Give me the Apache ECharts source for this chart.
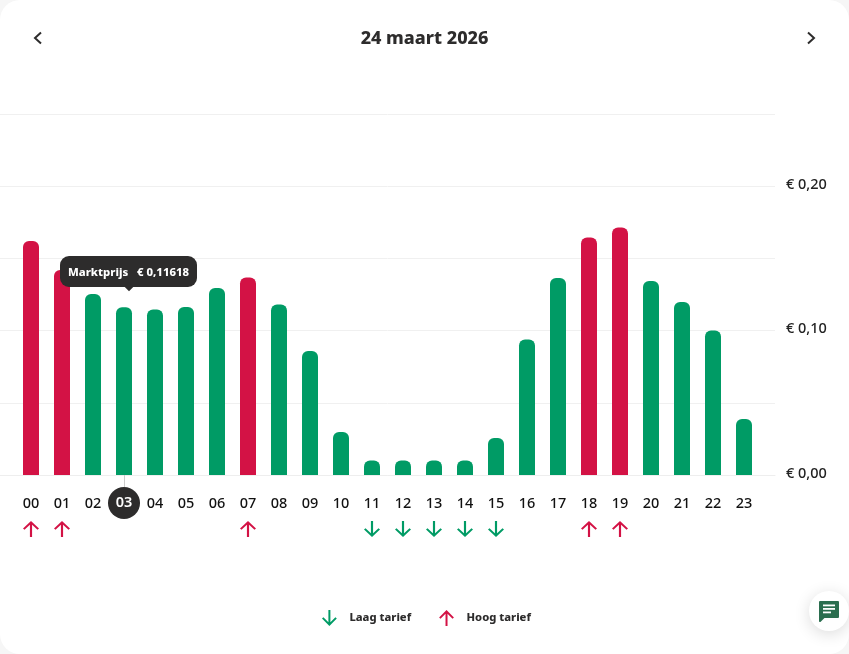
<!DOCTYPE html>
<html>
<head>
<meta charset="utf-8">
<script src="https://cdn.jsdelivr.net/npm/echarts@6/dist/echarts.min.js"></script>
<style>
html,body{margin:0;padding:0;background:#f6f6f6;width:849px;height:654px;overflow:hidden}
#card{position:absolute;left:0;top:0;width:849px;height:654px;background:#fff;border-radius:20px}
#c{width:849px;height:654px}
</style>
</head>
<body>
<div id="card"><div id="c"></div></div>
<script>
const hours = ['00','01','02','03','04','05','06','07','08','09','10','11','12','13','14','15','16','17','18','19','20','21','22','23'];
const prices = [0.162,0.142,0.1253,0.11618,0.1146,0.1163,0.1295,0.1368,0.118,0.0859,0.0298,0.01,0.01,0.01,0.01,0.0256,0.0938,0.1364,0.1645,0.1714,0.1343,0.1198,0.1,0.0388];
const highHours = ['00','01','07','18','19'];
const lowHours = ['11','12','13','14','15'];
const selectedHour = '03';
const labelledTicks = [0,0.10,0.20];
const title = '24 maart 2026';

const GREEN = '#009b65', RED = '#d31245', DARK = '#2d2c2c';
const UP = 'path://M7 16V3.8L2 8.8 0.6 7.4 8 0l7.4 7.4L14 8.8 9 3.8V16z';
const DOWN = 'path://M7 0V12.2L2 7.2 0.6 8.6 8 16l7.4-7.4L14 7.2 9 12.2V0z';

// One empty slot at each end so that the 24 bars sit on a 25-interval axis
const cats = [''].concat(hours, ['']);
const barData = [{value:null}].concat(hours.map((h,i)=>({
  value: prices[i],
  itemStyle:{color: highHours.includes(h) ? RED : GREEN, borderRadius:[6,6,0,0]}
})), [{value:null}]);

const chart = echarts.init(document.getElementById('c'), null, {renderer:'canvas'});
chart.setOption({
  animation:false,
  textStyle:{fontFamily:'"Noto Sans"'},
  title:{text:title,left:'center',top:21,itemGap:0,
    textStyle:{fontFamily:'"Noto Sans"',fontSize:18,fontWeight:800,color:DARK,lineHeight:26}},
  grid:[
    {left:0,top:114,width:775,height:361,containLabel:false,outerBoundsMode:'none'},
    {left:0,top:521,width:775,height:16,outerBoundsMode:'none'}
  ],
  legend:{
    left:317,top:605,itemWidth:16,itemHeight:16,itemGap:28,
    selectedMode:false,
    itemStyle:{opacity:1},
    textStyle:{fontFamily:'"Noto Sans"',fontSize:11.2,fontWeight:800,color:DARK,padding:[0,0,0,7]},
    data:[{name:'Laag tarief',icon:DOWN},{name:'Hoog tarief',icon:UP}]
  },
  xAxis:[
    {type:'category',gridIndex:0,data:cats,boundaryGap:false,
     axisLine:{lineStyle:{color:'#eeeeee',width:1}},
     axisTick:{show:true,alignWithLabel:true,length:12,lineStyle:{color:'#cccccc',width:1},
       interval:(i,v)=>v===selectedHour},
     axisLabel:{interval:0,margin:12,showMinLabel:true,showMaxLabel:true,
       formatter:v=> v===selectedHour?`{s|${v}}`:`{n|${v}}`,
       rich:{
         n:{fontFamily:'"Noto Sans"',fontSize:14.5,fontWeight:500,color:'#111',height:34,lineHeight:34,width:32,align:'center'},
         s:{fontFamily:'"Noto Sans"',fontSize:14.5,fontWeight:600,color:'#fff',backgroundColor:DARK,borderRadius:16,height:32,lineHeight:32,width:32,align:'center'}
       }}},
    {type:'category',gridIndex:1,data:cats,boundaryGap:false,show:false}
  ],
  yAxis:[
    {type:'value',gridIndex:0,position:'right',min:0,max:0.25,interval:0.05,
     axisLine:{show:false},axisTick:{show:false},
     splitLine:{show:true,lineStyle:{color:'#f0f0f0',width:1}},
     axisLabel:{margin:11,
       formatter:v=> labelledTicks.some(t=>Math.abs(t-v)<1e-9) ? '{v|€ '+v.toFixed(2).replace('.',',')+'}' : '',
       rich:{v:{fontFamily:'"Noto Sans"',fontSize:14.5,fontWeight:500,color:'#222',padding:[0,0,3,0]}}}},
    {type:'value',gridIndex:1,min:0,max:1,show:false}
  ],
  tooltip:{
    show:true,trigger:'item',alwaysShowContent:true,position:'top',transitionDuration:0,
    backgroundColor:DARK,borderWidth:0,padding:[7,8],
    extraCssText:'border-radius:9px;box-shadow:none;margin-left:4px;margin-top:-12px;',
    textStyle:{color:'#fff',fontFamily:'"Noto Sans"',fontSize:11.3,fontWeight:800},
    formatter:p=> 'Marktprijs&nbsp;&nbsp;&nbsp;€ '+p.value.toFixed(5).replace('.',',')
  },
  series:[
    {name:'Marktprijs',type:'bar',xAxisIndex:0,yAxisIndex:0,barWidth:16,data:barData,emphasis:{disabled:true}},
    {name:'Laag tarief',type:'scatter',xAxisIndex:1,yAxisIndex:1,symbol:DOWN,symbolSize:16,
     itemStyle:{color:GREEN,opacity:1},data:lowHours.map(h=>[h,0.5]),tooltip:{show:false},silent:true},
    {name:'Hoog tarief',type:'scatter',xAxisIndex:1,yAxisIndex:1,symbol:UP,symbolSize:16,
     itemStyle:{color:RED,opacity:1},data:highHours.map(h=>[h,0.5]),tooltip:{show:false},silent:true}
  ],
  graphic:[
    {type:'polyline',shape:{points:[[41,32.5],[35,38],[41,43.5]]},style:{stroke:DARK,lineWidth:2,fill:null}},
    {type:'polyline',shape:{points:[[808,32.5],[814,38],[808,43.5]]},style:{stroke:DARK,lineWidth:2,fill:null}},
    {type:'circle',shape:{cx:829,cy:611,r:20},style:{fill:'#fff',shadowBlur:16,shadowColor:'rgba(0,0,0,0.14)',shadowOffsetY:3}},
    {type:'polygon',shape:{points:[[820,602],[838,602],[838,617],[824,617],[820,621]]},style:{fill:'#2b6e4f',stroke:'#2b6e4f',lineWidth:2,lineJoin:'round'}},
    {type:'rect',shape:{x:823,y:604.5,width:12,height:1.8},style:{fill:'#fff'}},
    {type:'rect',shape:{x:823,y:608,width:12,height:1.8},style:{fill:'#fff'}},
    {type:'rect',shape:{x:823,y:611.5,width:8,height:1.8},style:{fill:'#fff'}}
  ]
});
chart.dispatchAction({type:'showTip',seriesIndex:0,dataIndex:cats.indexOf(selectedHour)});
</script>
</body>
</html>
